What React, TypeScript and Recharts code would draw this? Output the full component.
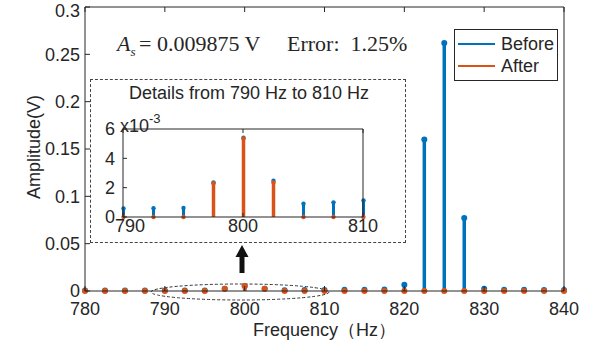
import { ComposedChart, Bar, XAxis, YAxis, Legend, Label } from 'recharts';

const freqs = [
  780, 782.5, 785, 787.5, 790, 792.5, 795, 797.5, 800, 802.5, 805, 807.5, 810,
  812.5, 815, 817.5, 820, 822.5, 825, 827.5, 830, 832.5, 835, 837.5, 840,
];
const beforeAmp = [
  0.0005, 0.0005, 0.0005, 0.0005, 0.00058, 0.0006, 0.00062, 0.00236, 0.0054, 0.00247, 0.0009, 0.001, 0.00113,
  0.0012, 0.0013, 0.0015, 0.0065, 0.16, 0.262, 0.077, 0.0025, 0.0014, 0.0012, 0.0011, 0.001,
];
const afterAmp = [
  0, 0, 0, 0, 0, 0, 0, 0.0023, 0.00536, 0.00236, 0, 0, 0,
  0, 0, 0, 0, 0, 0, 0, 0, 0, 0, 0, 0,
];
const mainXTicks = [780, 790, 800, 810, 820, 830, 840];
const mainYTicks = [0, 0.05, 0.1, 0.15, 0.2, 0.25, 0.3];
const insetXTicks = [790, 800, 810];
const insetYTicks = [0, 0.002, 0.004, 0.006];
const seriesOrder = ['before', 'after'];

const BLUE = '#0072BD';
const ORANGE = '#D95319';
const INK = '#262626';
const FONT = '"Liberation Sans", Arial, sans-serif';
const SERIF = '"Liberation Serif", "Times New Roman", serif';

const data = freqs.map((f, i) => ({ freq: f, before: beforeAmp[i], after: afterAmp[i] }));
const insetData = data.filter(d => d.freq >= 790 && d.freq <= 810);

const tickStyle = { fill: INK, fontSize: 18, fontFamily: FONT };
const noLabel = () => <g />;

// stem = vertical line from value down to the baseline, dot on top
function stem(color: string, lw: number, r: number) {
  return (props: any) => {
    const { x, y, width, height } = props;
    const cx = x + width / 2;
    return (
      <g>
        <line x1={cx} x2={cx} y1={y} y2={y + height} stroke={color} strokeWidth={lw} />
        <circle cx={cx} cy={y} r={r} fill={color} />
      </g>
    );
  };
}

// matlab nudges the first inset label right so it clears the "0"
function InsetXTick({ x, y, payload, index }: any) {
  const dx = index === 0 ? 7 : 0;
  return (
    <text x={x + dx} y={y} dy="0.71em" textAnchor="middle" fill={INK} fontSize={18} fontFamily={FONT}>
      {payload.value}
    </text>
  );
}

function LegendBox({ payload }: any) {
  return (
    <div style={{ border: `1px solid ${INK}`, background: '#fff', width: 102, padding: '3px 0', boxSizing: 'content-box' }}>
      {(payload || []).map((p: any) => (
        <div key={p.value} style={{ display: 'flex', alignItems: 'center', height: 22 }}>
          <span style={{ width: 37, borderTop: `2px solid ${p.color}`, marginLeft: 3, marginRight: 6 }} />
          <span style={{ fontSize: 18, fontFamily: FONT, color: INK, lineHeight: '22px' }}>{p.value}</span>
        </div>
      ))}
    </div>
  );
}

export default function App() {
  return (
    <div style={{ position: 'absolute', left: 0, top: 0, width: 595, height: 344, background: '#fff', overflow: 'hidden' }}>
      <svg width={595} height={344} style={{ position: 'absolute', left: 0, top: 0 }}>
        <text x={117} y={51} fontFamily={SERIF} fontSize={22} fill={INK} style={{ whiteSpace: 'pre' }}>
          <tspan fontStyle="italic">A</tspan>
          <tspan fontStyle="italic" fontSize={13} dy={5}>s</tspan>
        </text>
        <text x={139} y={51} fontFamily={SERIF} fontSize={22} fill={INK} style={{ whiteSpace: 'pre' }}>= 0.009875 V</text>
        <text x={287} y={51} fontFamily={SERIF} fontSize={22} fill={INK} style={{ whiteSpace: 'pre' }}>Error:  1.25%</text>
        <text x={40} y={147} transform="rotate(-90 40 147)" textAnchor="middle" fontFamily={FONT} fontSize={18} fill={INK}>
          Amplitude(V)
        </text>
        <ellipse cx={240} cy={292} rx={89} ry={8} fill="none" stroke="#333" strokeWidth={1} strokeDasharray="3 2" />
        <line x1={242} x2={242} y1={273} y2={255} stroke="#111" strokeWidth={5} />
        <polygon points="235.5,257 248.5,257 242,245" fill="#111" />
      </svg>

      <div style={{ position: 'absolute', left: 0, top: 0 }}>
        <ComposedChart width={595} height={344} data={data} margin={{ top: 6, right: 30, bottom: 0, left: 25 }}>
          <XAxis
            xAxisId="b"
            dataKey="freq"
            type="number"
            domain={[780, 840]}
            ticks={mainXTicks}
            height={53}
            tickSize={-5}
            tickMargin={16}
            stroke={INK}
            tick={tickStyle}
          >
            <Label value="Frequency（Hz）" position="insideBottom" offset={8} fill={INK} fontSize={18} fontFamily={FONT} />
          </XAxis>
          <XAxis
            xAxisId="a"
            orientation="top"
            dataKey="freq"
            type="number"
            domain={[780, 840]}
            ticks={mainXTicks}
            height={1}
            tickSize={-5}
            tick={noLabel}
            stroke={INK}
          />
          <YAxis yAxisId="l" type="number" domain={[0, 0.3]} ticks={mainYTicks} width={60} tickSize={-5} tickMargin={10} stroke={INK} tick={tickStyle} />
          <YAxis yAxisId="r" orientation="right" type="number" domain={[0, 0.3]} ticks={mainYTicks} width={1} tickSize={-5} tick={noLabel} stroke={INK} />
          <Legend
            layout="horizontal"
            verticalAlign="middle"
            align="center"
            itemSorter={(item: any) => seriesOrder.indexOf(item.dataKey)}
            content={<LegendBox />}
            wrapperStyle={{ left: 454, top: 29, width: 104 }}
          />
          <Bar xAxisId="b" yAxisId="l" dataKey="before" name="Before" fill={BLUE} barSize={4} shape={stem(BLUE, 3.5, 3)} isAnimationActive={false} />
          <Bar xAxisId="a" yAxisId="l" dataKey="after" name="After" fill={ORANGE} barSize={4} shape={stem(ORANGE, 3.5, 3)} isAnimationActive={false} />
        </ComposedChart>
      </div>

      <div
        style={{
          position: 'absolute',
          left: 90,
          top: 79,
          width: 316,
          height: 164,
          boxSizing: 'border-box',
          border: '1px dashed #444',
          background: '#fff',
        }}
      >
        <div style={{ position: 'absolute', left: 0, top: 3, width: 316, textAlign: 'center', fontFamily: FONT, fontSize: 18, color: INK }}>
          Details from 790 Hz to 810 Hz
        </div>
        <div style={{ position: 'absolute', left: 29, top: 33, fontFamily: FONT, fontSize: 18, color: INK }}>
          x10<sup style={{ fontSize: 13, position: 'relative', top: -2 }}>-3</sup>
        </div>
        <div style={{ position: 'absolute', left: -1, top: -1 }}>
          <ComposedChart width={316} height={164} data={insetData} margin={{ top: 49, right: 42, bottom: 0, left: 0 }}>
            <XAxis xAxisId="b" dataKey="freq" type="number" domain={[790, 810]} ticks={insetXTicks} height={26} tickSize={-4} tickMargin={6} stroke={INK} tick={<InsetXTick />} />
            <XAxis xAxisId="a" orientation="top" dataKey="freq" type="number" domain={[790, 810]} ticks={insetXTicks} height={1} tickSize={-4} tick={noLabel} stroke={INK} />
            <YAxis
              yAxisId="l"
              type="number"
              domain={[0, 0.006]}
              ticks={insetYTicks}
              width={33}
              tickSize={-4}
              tickMargin={12}
              stroke={INK}
              tick={tickStyle}
              tickFormatter={(v: number) => String(Math.round(v * 1000))}
            />
            <YAxis yAxisId="r" orientation="right" type="number" domain={[0, 0.006]} ticks={insetYTicks} width={1} tickSize={-4} tick={noLabel} stroke={INK} />
            <Bar xAxisId="b" yAxisId="l" dataKey="before" fill={BLUE} barSize={3} shape={stem(BLUE, 3, 2.2)} isAnimationActive={false} />
            <Bar xAxisId="a" yAxisId="l" dataKey="after" fill={ORANGE} barSize={3} shape={stem(ORANGE, 3.5, 2.2)} isAnimationActive={false} />
          </ComposedChart>
        </div>
      </div>
    </div>
  );
}
